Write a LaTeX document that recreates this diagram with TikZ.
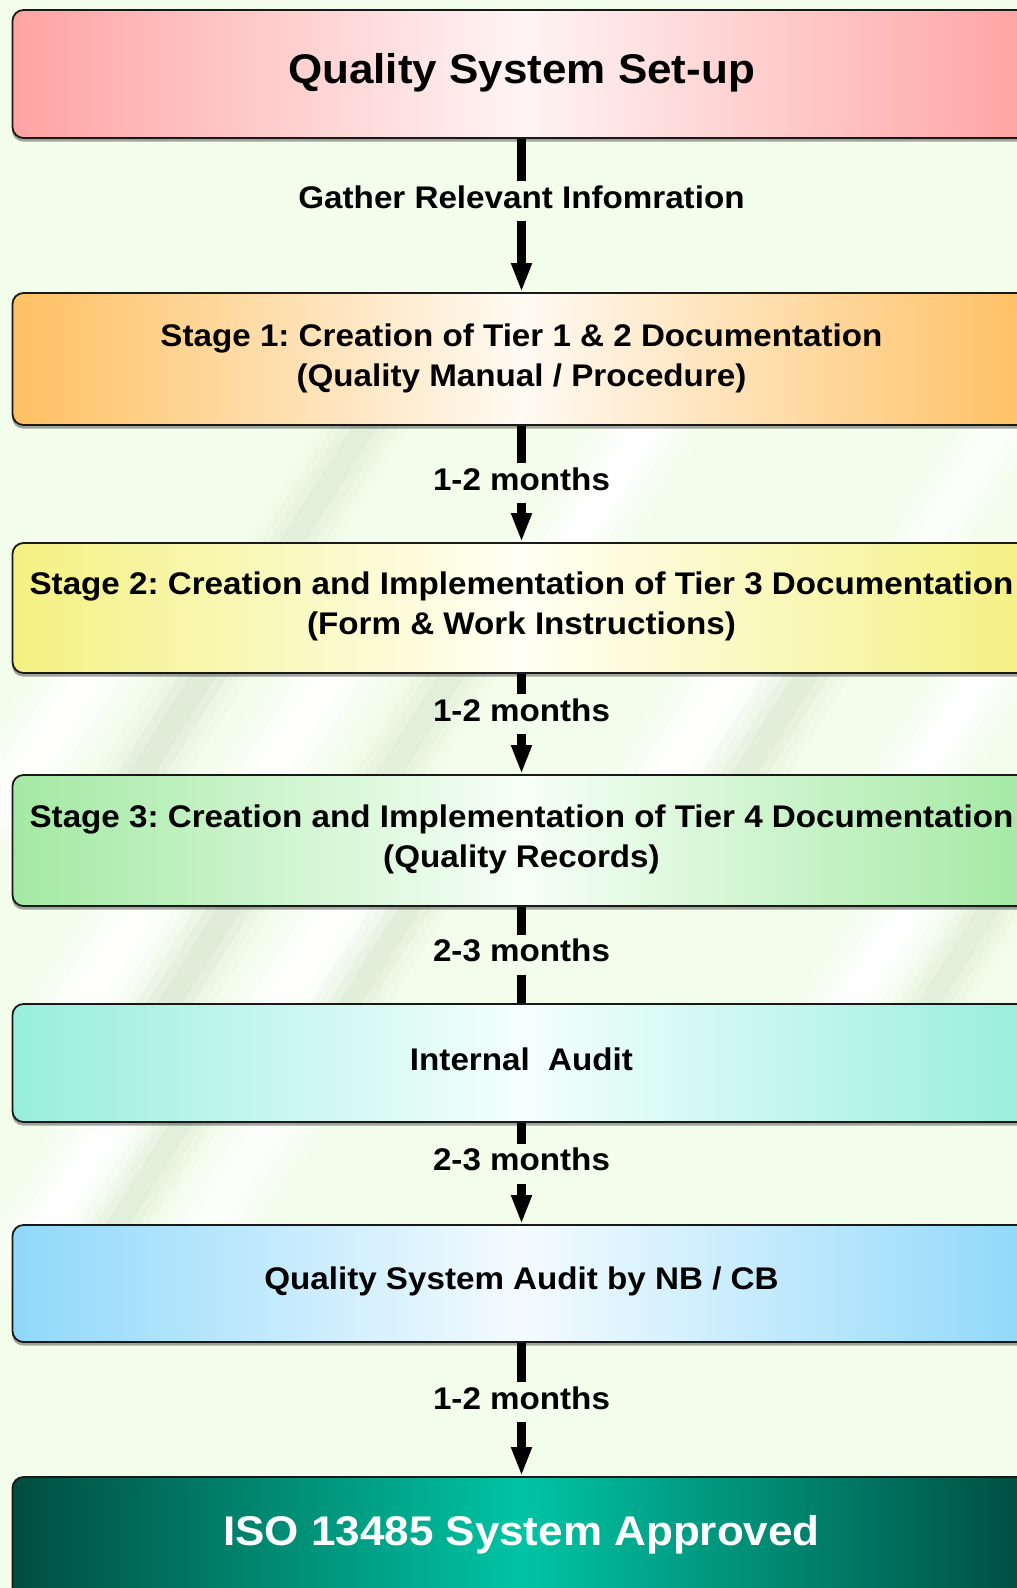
\documentclass[tikz,border=0pt]{standalone}
\usepackage{fontspec}
\setmainfont{Liberation Sans}[FakeStretch=1.06]
\usetikzlibrary{arrows.meta,shadows}
\frenchspacing
\definecolor{bgcol}{HTML}{F3FDEB}
\definecolor{cTitle}{HTML}{FFA3A3}
\definecolor{cTitleM}{HTML}{FFF4F4}
\definecolor{cOne}{HTML}{FFC062}
\definecolor{cOneM}{HTML}{FFFAF3}
\definecolor{cTwo}{HTML}{F4F182}
\definecolor{cTwoM}{HTML}{FFFFF4}
\definecolor{cThree}{HTML}{A3E9A3}
\definecolor{cThreeM}{HTML}{F7FFF7}
\definecolor{cFour}{HTML}{97EEDC}
\definecolor{cFourM}{HTML}{F4FFFE}
\definecolor{cFive}{HTML}{8FD8FA}
\definecolor{cFiveM}{HTML}{F4FBFF}
\definecolor{cISO}{HTML}{004D40}
\definecolor{cISOM}{HTML}{00C4A4}
\definecolor{wmgray}{HTML}{D3E2CC}
\definecolor{wmlight}{HTML}{FFFFFF}
\tikzset{
  stagebox/.style={draw=black!90, line width=1.8pt, rounded corners=11pt,
    minimum width=1018pt, inner sep=0pt,
    drop shadow={shadow xshift=-0.5pt, shadow yshift=-3.5pt, opacity=0.35, fill=black}},
  bigtext/.style={anchor=base, inner sep=0pt, font=\fontsize{41.5}{50}\selectfont\bfseries},
  bodytext/.style={anchor=base, inner sep=0pt, font=\fontsize{31.3}{38}\selectfont\bfseries},
  steplabel/.style={anchor=base, inner xsep=0pt, inner ysep=4pt, text height=23pt, text depth=9pt,
    font=\fontsize{31.3}{38}\selectfont\bfseries},
  conn/.style={line width=8.5pt, black},
  connarrow/.style={conn, -{Triangle[width=19pt,length=29pt]}}
}
% soft watermark band: x, y (image coords), colour, width, strength
\newcommand\wmband[5]{%
  \foreach \wf/\of in {1.7/0.25, 1.3/0.4, 0.9/0.6, 0.5/0.85} {%
    \pgfmathsetmacro\wmlw{\wf*#4}%
    \pgfmathsetmacro\wmop{\of*#5}%
    \draw[#3, line width=\wmlw pt, opacity=\wmop, line cap=round]
      ({#1-48},{-#2-76}) -- ({#1+48},{-#2+76});
  }%
}
\begin{document}
\begin{tikzpicture}[x=1pt,y=1pt]
\fill[bgcol] (0,0) rectangle (1017,-1588);
\useasboundingbox (0,0) rectangle (1017,-1588);

% faint watermark bands (visible between the boxes)
\wmband{325}{490}{wmgray}{44}{0.28}
\wmband{600}{500}{wmlight}{60}{0.8}
\wmband{960}{490}{wmlight}{50}{0.6}
\wmband{58}{725}{wmlight}{60}{0.9}
\wmband{172}{725}{wmgray}{46}{0.35}
\wmband{300}{725}{wmlight}{60}{0.9}
\wmband{420}{725}{wmgray}{46}{0.28}
\wmband{700}{725}{wmlight}{60}{0.9}
\wmband{775}{725}{wmgray}{44}{0.3}
\wmband{950}{725}{wmlight}{55}{0.8}
\wmband{113}{955}{wmlight}{60}{0.9}
\wmband{200}{955}{wmgray}{44}{0.35}
\wmband{310}{955}{wmlight}{60}{0.9}
\wmband{380}{955}{wmgray}{40}{0.3}
\wmband{880}{955}{wmlight}{55}{0.8}
\wmband{960}{955}{wmgray}{40}{0.28}
\wmband{80}{1173}{wmlight}{55}{0.8}
\wmband{150}{1173}{wmgray}{40}{0.28}
\wmband{240}{1173}{wmlight}{55}{0.7}

% boxes
\node[stagebox, minimum height=128pt, left color=cTitle, right color=cTitle, middle color=cTitleM] (b1) at (521.5,-74) {};
\node[stagebox, minimum height=132pt, left color=cOne, right color=cOne, middle color=cOneM] (b2) at (521.5,-359) {};
\node[stagebox, minimum height=130pt, left color=cTwo, right color=cTwo, middle color=cTwoM] (b3) at (521.5,-608) {};
\node[stagebox, minimum height=131pt, left color=cThree, right color=cThree, middle color=cThreeM] (b4) at (521.5,-840.5) {};
\node[stagebox, minimum height=118pt, left color=cFour, right color=cFour, middle color=cFourM] (b5) at (521.5,-1063) {};
\node[stagebox, minimum height=117pt, left color=cFive, right color=cFive, middle color=cFiveM] (b6) at (521.5,-1283.5) {};
\node[stagebox, minimum height=163pt, left color=cISO, right color=cISO, middle color=cISOM] (b7) at (521.5,-1558.5) {};

% box texts
\node[bigtext] (t1) at (521.5,-83.5) {Quality System Set-up};
\node[bodytext] (t2a) at (521.5,-346) {Stage 1: Creation of Tier 1 \& 2 Documentation};
\node[bodytext] (t2b) at (521.5,-386) {(Quality Manual / Procedure)};
\node[bodytext] (t3a) at (521.5,-594.3) {Stage 2: Creation and Implementation of Tier 3 Documentation};
\node[bodytext] (t3b) at (521.5,-634.3) {(Form \& Work Instructions)};
\node[bodytext] (t4a) at (521.5,-827.2) {Stage 3: Creation and Implementation of Tier 4 Documentation};
\node[bodytext] (t4b) at (521.5,-867.2) {(Quality Records)};
\node[bodytext] (t5) at (521.5,-1070) {Internal\ \ Audit};
\node[bodytext] (t6) at (521.5,-1289) {Quality System Audit by NB / CB};
\node[bigtext, text=white] (t7) at (521.5,-1545) {ISO 13485 System Approved};

% connector labels
\node[steplabel] (l1) at (521.5,-208) {Gather Relevant Infomration};
\node[steplabel] (l2) at (521.5,-490) {1-2 months};
\node[steplabel] (l3) at (521.5,-721) {1-2 months};
\node[steplabel] (l4) at (521.5,-961.7) {2-3 months};
\node[steplabel] (l5) at (521.5,-1170.7) {2-3 months};
\node[steplabel] (l6) at (521.5,-1409) {1-2 months};

% connectors
\draw[conn] (b1.south) -- (l1.north);
\draw[connarrow] (l1.south) -- (b2.north);
\draw[conn] (b2.south) -- (l2.north);
\draw[connarrow] (l2.south) -- (b3.north);
\draw[conn] (b3.south) -- (l3.north);
\draw[connarrow] (l3.south) -- (b4.north);
\draw[conn] (b4.south) -- (l4.north);
\draw[conn] (l4.south) -- (b5.north);
\draw[conn] (b5.south) -- (l5.north);
\draw[connarrow] (l5.south) -- (b6.north);
\draw[conn] (b6.south) -- (l6.north);
\draw[connarrow] (l6.south) -- (b7.north);
\end{tikzpicture}
\end{document}
